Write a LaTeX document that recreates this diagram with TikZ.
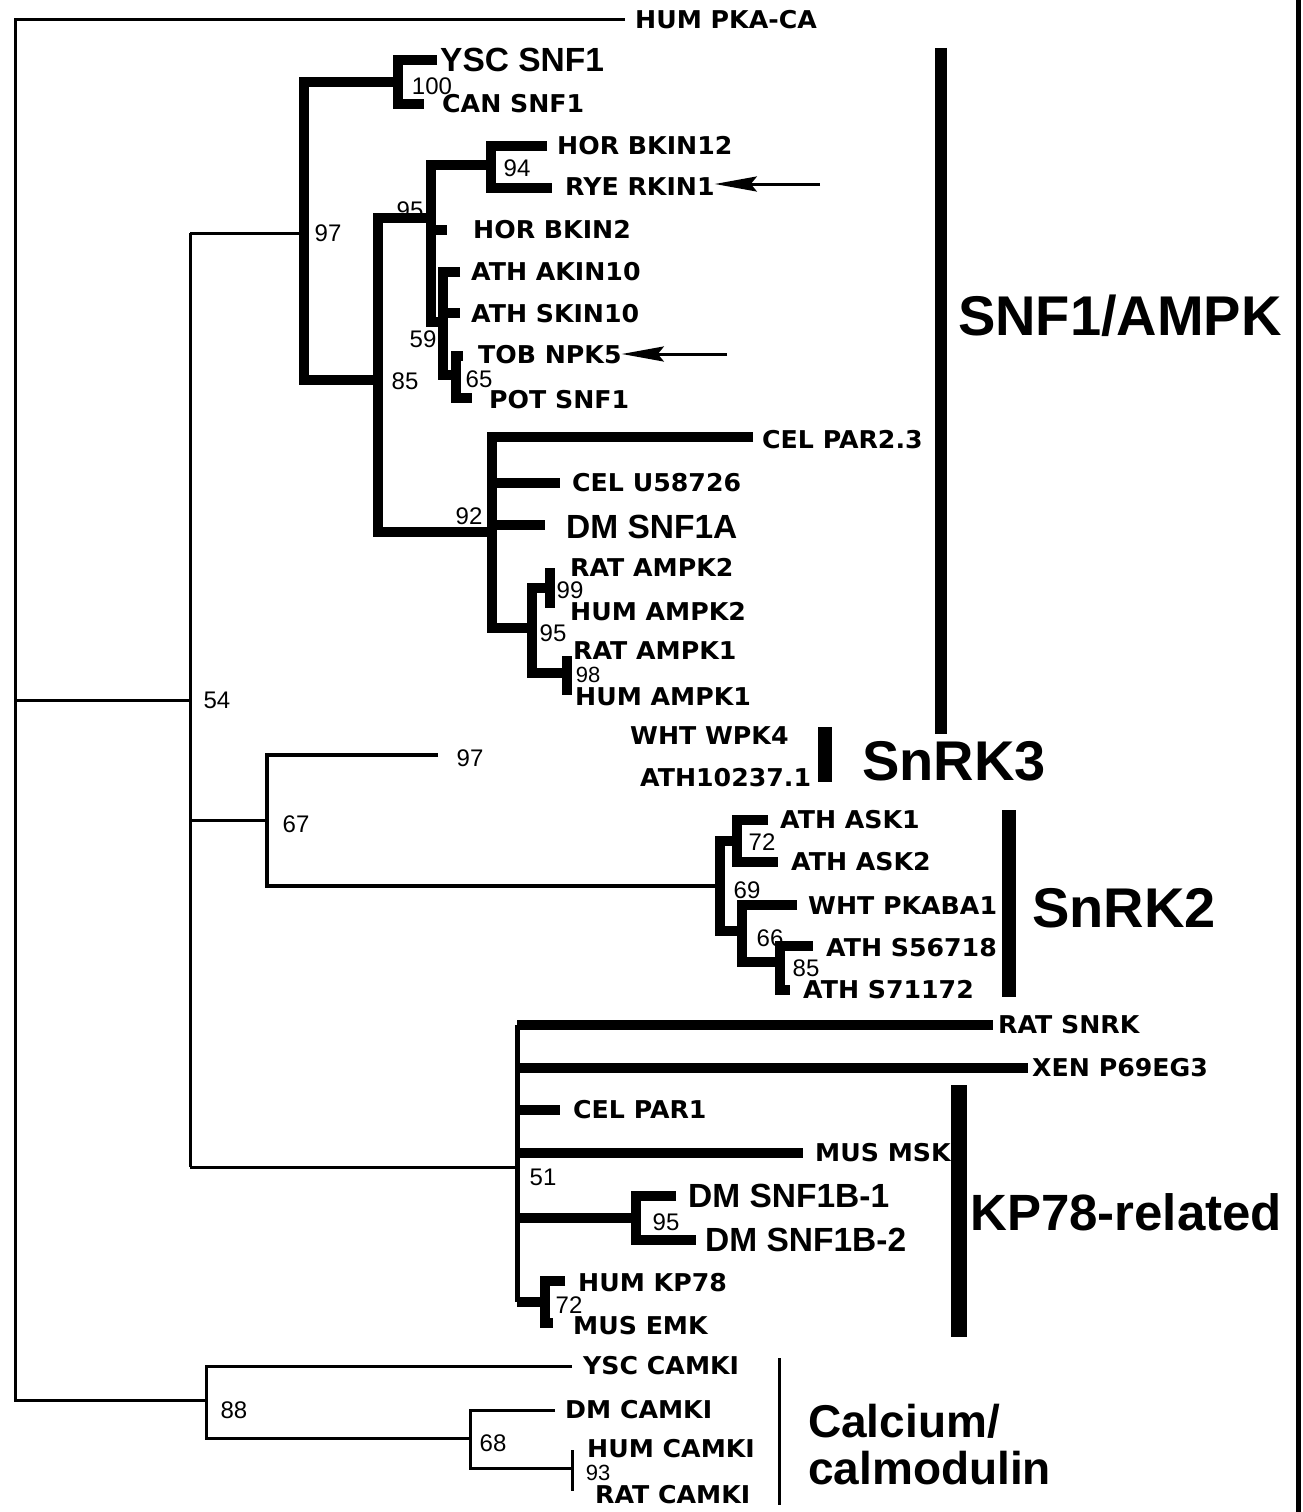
\documentclass[tikz,border=0pt]{standalone}
\usepackage{fontspec}
\usepackage{graphicx}
\usetikzlibrary{arrows.meta}
\newfontfamily\labfont{DejaVu Sans}
\newfontfamily\arialfont{Liberation Sans}
\newcommand{\lbl}[1]{\scalebox{1.03}[1]{#1}}
\tikzset{
  tn/.style={line width=3pt, line join=miter},
  tk/.style={line width=10pt, line join=miter},
  md/.style={line width=5pt},
  lab/.style={font=\labfont\bfseries\fontsize{24.5}{24.5}\selectfont, anchor=west, inner sep=0pt},
  big/.style={font=\arialfont\bfseries\fontsize{33.5}{33.5}\selectfont, anchor=west, inner sep=0pt},
  num/.style={font=\arialfont\fontsize{24}{24}\selectfont, inner sep=0pt},
  smallnum/.style={font=\arialfont\fontsize{22}{22}\selectfont, inner sep=0pt},
  grp/.style={font=\arialfont\bfseries\fontsize{56}{56}\selectfont, anchor=base west, inner sep=0pt},
  arr/.style={line width=3pt, -{Stealth[length=42pt, width=15pt, inset=6pt]}},
}
\begin{document}
\begin{tikzpicture}[x=1pt,y=-1pt]
\useasboundingbox (0,0) rectangle (1302,1512);
\fill[white] (0,0) rectangle (1302,1512);
% ---------- coordinates ----------
\coordinate (R) at (15,700);
\coordinate (pkaT) at (625,20);
\coordinate (n54) at (190,700);
\coordinate (n97) at (304,233);
\coordinate (n100) at (398,82);
\coordinate (yscT) at (437,60);
\coordinate (canT) at (424,104);
\coordinate (n85) at (378,380);
\coordinate (n95) at (431,218);
\coordinate (n94) at (491,165);
\coordinate (bkin12T) at (547,146);
\coordinate (rkinT) at (552,188);
\coordinate (bkin2T) at (447,230);
\coordinate (n59) at (443,322);
\coordinate (akinT) at (460,272);
\coordinate (skinT) at (460,313);
\coordinate (n65) at (456,375);
\coordinate (tobT) at (463,356);
\coordinate (potT) at (472,398);
\coordinate (n92) at (492,532);
\coordinate (par23T) at (753,437);
\coordinate (u58T) at (560,483);
\coordinate (snf1aT) at (545,525);
\coordinate (n95b) at (532,628);
\coordinate (n99) at (550,588);
\coordinate (ampk2rT) at (550,568);
\coordinate (ampk2hT) at (550,608);
\coordinate (n98) at (567,673);
\coordinate (ampk1rT) at (567,656);
\coordinate (ampk1hT) at (567,695);
\coordinate (n67) at (267,820);
\coordinate (t97) at (438,755);
\coordinate (nS2) at (720,886);
\coordinate (n72) at (737,841);
\coordinate (ask1T) at (768,820);
\coordinate (ask2T) at (778,862);
\coordinate (n66) at (742,931);
\coordinate (pkabaT) at (797,905);
\coordinate (n85b) at (780,962);
\coordinate (s567T) at (813,946);
\coordinate (s711T) at (790,990);
\coordinate (n51) at (517,1167);
\coordinate (snrkT) at (993,1025);
\coordinate (xenT) at (1028,1068);
\coordinate (par1T) at (560,1110);
\coordinate (mskT) at (803,1153);
\coordinate (n95c) at (636,1218);
\coordinate (b1T) at (676,1196);
\coordinate (b2T) at (696,1240);
\coordinate (n72b) at (545,1302);
\coordinate (kp78T) at (565,1281);
\coordinate (emkT) at (553,1323);
\coordinate (n88) at (206,1400);
\coordinate (yscCaT) at (572,1366);
\coordinate (n68) at (470,1438);
\coordinate (dmCaT) at (555,1410);
\coordinate (n93) at (572,1468);
\coordinate (humCaT) at (572,1450);
\coordinate (ratCaT) at (572,1491);
% ---------- bootstrap numbers ----------
\node[num] (b54) at (217,700) {54};
\node[num] (b97) at (328,233) {97};
\node[num] (b100) at (432,86) {100};
\node[num] (b94) at (517,168) {94};
\node[num] (b95a) at (410,210) {95};
\node[num] (b59) at (423,339) {59};
\node[num] (b85a) at (405,381) {85};
\node[num] (b65) at (479,379) {65};
\node[num] (b92) at (469,516) {92};
\node[num] (b99) at (570,590) {99};
\node[num] (b95b) at (553,633) {95};
\node[smallnum] (b98) at (588,675) {98};
\node[num] (b97b) at (470,758) {97};
\node[num] (b67) at (296,824) {67};
\node[num] (b72a) at (762,842) {72};
\node[num] (b69) at (747,890) {69};
\node[num] (b66) at (770,938) {66};
\node[num] (b85b) at (806,968) {85};
\node[num] (b51) at (543,1177) {51};
\node[num] (b95c) at (666,1222) {95};
\node[num] (b72b) at (569,1305) {72};
\node[num] (b88) at (234,1410) {88};
\node[num] (b68) at (493,1443) {68};
\node[smallnum] (b93) at (598,1473) {93};
% ---------- thin branches ----------
\draw[tn] (pkaT) -- (R |- pkaT) -- (R |- n88) -- (n88);
\draw[tn] (R) -- (n54);
\draw[tn] (n54 |- n97) -- (n54 |- n51);
\draw[tn] (n54 |- n97) -- (n97);
\draw[tn] (n54 |- n67) -- (n67);
\draw[tn] (n54 |- n51) -- (n51);
\draw[tn, line width=3.5pt] (t97) -- (n67 |- t97) -- (n67 |- nS2) -- (nS2);
\draw[tn] (yscCaT) -- (n88 |- yscCaT) -- (n88 |- n68) -- (n68);
\draw[tn] (dmCaT) -- (n68 |- dmCaT) -- (n68 |- n93) -- (n93);
\draw[tn] (humCaT) -- (ratCaT);
% ---------- SNF1/AMPK clade ----------
\draw[tk] (n100) -- (n97 |- n100) -- (n97 |- n85) -- (n85);
\draw[tk] (yscT) -- (n100 |- yscT) -- (n100 |- canT) -- (canT);
\draw[tk] (n95) -- (n85 |- n95) -- (n85 |- n92) -- (n92);
\draw[tk] (n94) -- (n95 |- n94) -- (n95 |- n59) -- (n59);
\draw[tk] (n95 |- bkin2T) -- (bkin2T);
\draw[tk] (bkin12T) -- (n94 |- bkin12T) -- (n94 |- rkinT) -- (rkinT);
\draw[tk] (akinT) -- (n59 |- akinT) -- (n59 |- n65) -- (n65);
\draw[tk] (n59 |- skinT) -- (skinT);
\draw[tk] (tobT) -- (n65 |- tobT) -- (n65 |- potT) -- (potT);
\draw[tk] (par23T) -- (n92 |- par23T) -- (n92 |- n95b) -- (n95b);
\draw[tk] (n92 |- u58T) -- (u58T);
\draw[tk] (n92 |- snf1aT) -- (snf1aT);
\draw[tk] (n99) -- (n95b |- n99) -- (n95b |- n98) -- (n98);
\draw[tk] (ampk2rT) -- (ampk2hT);
\draw[tk] (ampk1rT) -- (ampk1hT);
% ---------- SnRK2 clade ----------
\draw[tk] (n72) -- (nS2 |- n72) -- (nS2 |- n66) -- (n66);
\draw[tk] (ask1T) -- (n72 |- ask1T) -- (n72 |- ask2T) -- (ask2T);
\draw[tk] (pkabaT) -- (n66 |- pkabaT) -- (n66 |- n85b) -- (n85b);
\draw[tk] (s567T) -- (n85b |- s567T) -- (n85b |- s711T) -- (s711T);
% ---------- KP78 clade ----------
\draw[md] (n51 |- snrkT) -- (n51 |- n72b);
\draw[tk] (n51 |- snrkT) -- (snrkT);
\draw[tk] (n51 |- xenT) -- (xenT);
\draw[tk] (n51 |- par1T) -- (par1T);
\draw[tk] (n51 |- mskT) -- (mskT);
\draw[tk] (n51 |- n95c) -- (n95c);
\draw[tk] (n51 |- n72b) -- (n72b);
\draw[tk] (b1T) -- (n95c |- b1T) -- (n95c |- b2T) -- (b2T);
\draw[tk] (kp78T) -- (n72b |- kp78T) -- (n72b |- emkT) -- (emkT);
% ---------- leaf labels ----------
\node[lab] (pka) at (635,20) {\lbl{HUM PKA-CA}};
\node[big] (ysc) at (440,60) {YSC SNF1};
\node[lab] (can) at (442,104) {\lbl{CAN SNF1}};
\node[lab] (bkin12) at (557,146) {\lbl{HOR BKIN12}};
\node[lab] (rkin) at (565,187) {\lbl{RYE RKIN1}};
\node[lab] (bkin2) at (473,230) {\lbl{HOR BKIN2}};
\node[lab] (akin) at (471,272) {\lbl{ATH AKIN10}};
\node[lab] (skin) at (471,314) {\lbl{ATH SKIN10}};
\node[lab] (tob) at (478,355) {\lbl{TOB NPK5}};
\node[lab] (pot) at (489,400) {\lbl{POT SNF1}};
\node[lab] (par23) at (762,440) {\lbl{CEL PAR2.3}};
\node[lab] (u58) at (572,483) {\lbl{CEL U58726}};
\node[big] (snf1a) at (566,527) {DM SNF1A};
\node[lab] (ampk2r) at (570,567) {\lbl{RAT AMPK2}};
\node[lab] (ampk2h) at (570,612) {\lbl{HUM AMPK2}};
\node[lab] (ampk1r) at (573,651) {\lbl{RAT AMPK1}};
\node[lab] (ampk1h) at (575,697) {\lbl{HUM AMPK1}};
\node[lab] (wpk4) at (630,736) {\lbl{WHT WPK4}};
\node[lab] (ath10237) at (640,778) {\lbl{ATH10237.1}};
\node[lab] (ask1) at (780,820) {\lbl{ATH ASK1}};
\node[lab] (ask2) at (791,862) {\lbl{ATH ASK2}};
\node[lab] (pkaba) at (808,906) {\lbl{WHT PKABA1}};
\node[lab] (s567) at (826,948) {\lbl{ATH S56718}};
\node[lab] (s711) at (803,990) {\lbl{ATH S71172}};
\node[lab] (snrk) at (998,1025) {\lbl{RAT SNRK}};
\node[lab] (xen) at (1032,1068) {\lbl{XEN P69EG3}};
\node[lab] (par1) at (573,1110) {\lbl{CEL PAR1}};
\node[lab] (msk) at (815,1153) {\lbl{MUS MSK}};
\node[big] (b1) at (688,1196) {DM SNF1B-1};
\node[big] (b2) at (705,1240) {DM SNF1B-2};
\node[lab] (kp78) at (578,1283) {\lbl{HUM KP78}};
\node[lab] (emk) at (573,1326) {\lbl{MUS EMK}};
\node[lab] (yscCa) at (583,1366) {\lbl{YSC CAMKI}};
\node[lab] (dmCa) at (565,1410) {\lbl{DM CAMKI}};
\node[lab] (humCa) at (587,1449) {\lbl{HUM CAMKI}};
\node[lab] (ratCa) at (595,1495) {\lbl{RAT CAMKI}};
% ---------- arrows ----------
\coordinate (a1s) at (820,184);
\coordinate (a2s) at (727,354);
\draw[arr] (a1s) -- (rkin.east |- a1s);
\draw[arr] (a2s) -- (tob.east |- a2s);
% ---------- group bars and labels ----------
\coordinate (gA1) at (941,48);   \coordinate (gA2) at (941,734);
\coordinate (gB1) at (825,727);  \coordinate (gB2) at (825,782);
\coordinate (gC1) at (1009,810); \coordinate (gC2) at (1009,997);
\coordinate (gD1) at (959,1085); \coordinate (gD2) at (959,1337);
\coordinate (gE1) at (779,1358); \coordinate (gE2) at (779,1505);
\draw[line width=12pt] (gA1) -- (gA2);
\draw[line width=14pt] (gB1) -- (gB2);
\draw[line width=14pt] (gC1) -- (gC2);
\draw[line width=16pt] (gD1) -- (gD2);
\draw[line width=3pt] (gE1) -- (gE2);
\node[grp] (gSNF) at (958,335) {SNF1/AMPK};
\node[grp] (gS3) at (862,780) {SnRK3};
\node[grp] (gS2) at (1032,927) {SnRK2};
\node[grp, font=\arialfont\bfseries\fontsize{51}{51}\selectfont] (gKP) at (970,1230) {KP78-related};
\node[grp, font=\arialfont\bfseries\fontsize{46}{46}\selectfont] (gCa1) at (808,1437) {Calcium/};
\node[grp, font=\arialfont\bfseries\fontsize{46}{46}\selectfont] (gCa2) at (808,1484) {calmodulin};
% ---------- page edge ----------
\coordinate (e1) at (1298,0); \coordinate (e2) at (1298,1512);
\draw[line width=5pt] (e1) -- (e2);
\end{tikzpicture}
\end{document}
